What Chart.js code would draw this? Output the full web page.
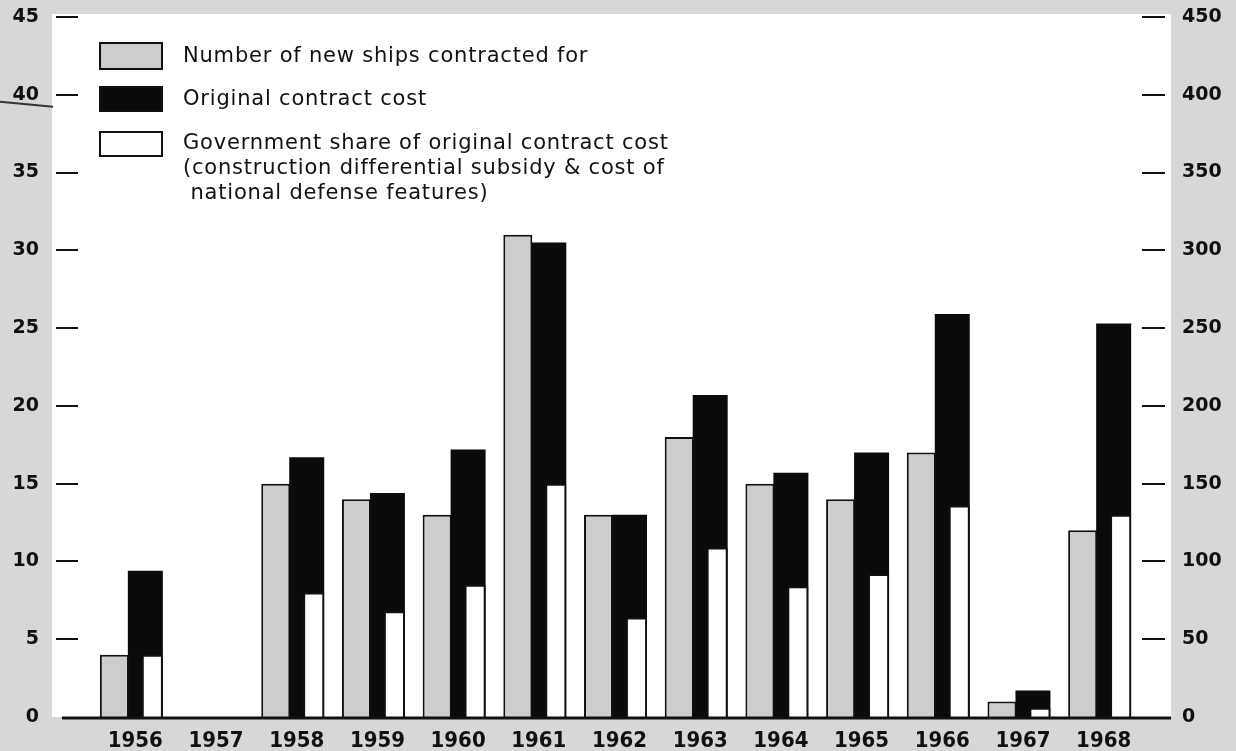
<!DOCTYPE html>
<html>
<head>
<meta charset="utf-8">
<script src="https://cdn.jsdelivr.net/npm/chart.js@4.4.1/dist/chart.umd.min.js"></script>
<style>
  html, body { margin: 0; padding: 0; background: #d7d7d7; }
  #wrap { position: relative; width: 1236px; height: 751px; overflow: hidden; }
  #wrap canvas { position: absolute; left: 0; top: 0; }
  .lg-row { position: absolute; left: 99px; }
  .lg-box { position: absolute; left: 0; width: 64px; box-sizing: border-box; border: 2px solid #111; }
  .lg-txt { position: absolute; left: 84px; font-family: 'DejaVu Sans', sans-serif; font-size: 21px;
            letter-spacing: 0.8px; line-height: 25px; color: #111; white-space: pre; }
</style>
</head>
<body>
<div id="wrap">
  <canvas id="cv" width="1236" height="751"></canvas>
  <div id="legend"></div>
</div>
<script>
// valores (escala esquerda: navios, direita: custo em milhoes)
const YEARS = ['1956', '1957', '1958', '1959', '1960', '1961', '1962', '1963', '1964', '1965', '1966', '1967', '1968'];
const SHIPS = [4, null, 15, 14, 13, 31, 13, 18, 15, 14, 17, 1, 12];
const COST = [94, null, 167, 144, 172, 305, 130, 207, 157, 170, 259, 17, 253];
const GOV_SHARE = [40, null, 80, 68, 85, 150, 64, 109, 84, 92, 136, 6, 130];
const SHIPS_AXIS = { min: 0, max: 45, step: 5 };
const COST_AXIS = { min: 0, max: 450, step: 50 };

const LBL_SHIPS = ['Number of new ships contracted for'];
const LBL_COST = ['Original contract cost'];
const LBL_GOV = ['Government share of original contract cost',
  '(construction differential subsidy & cost of',
  ' national defense features)'];

const INK = '#111';
const GRAY = '#cdcdcd';

// fundo cinza + painel branco, marcas dos eixos e linha de base
const moldura = {
  id: 'moldura',
  beforeDraw(chart) {
    const { ctx, chartArea: a, scales } = chart;
    const y0 = scales.yShips.getPixelForValue(0);
    ctx.save();
    ctx.fillStyle = '#d7d7d7';
    ctx.fillRect(0, 0, chart.width, chart.height);
    ctx.fillStyle = '#fff';
    ctx.fillRect(a.left - 37, 14, (a.right + 33) - (a.left - 37), y0 - 14);
    // risco de caneta sob o "40"
    ctx.strokeStyle = '#333';
    ctx.lineWidth = 2;
    ctx.beginPath();
    ctx.moveTo(0, scales.yShips.getPixelForValue(40) + 7);
    ctx.lineTo(a.left - 36, scales.yShips.getPixelForValue(40) + 12);
    ctx.stroke();
    ctx.restore();
  },
  afterDatasetsDraw(chart) {
    const { ctx, chartArea: a, scales: { yShips, yCost } } = chart;
    const line = (x1, y1, x2, y2) => { ctx.beginPath(); ctx.moveTo(x1, y1); ctx.lineTo(x2, y2); ctx.stroke(); };
    ctx.save();
    ctx.strokeStyle = INK;
    ctx.lineWidth = 2;
    yShips.ticks.forEach(t => {
      if (t.value === 0) return;
      const y = Math.round(yShips.getPixelForValue(t.value));
      line(a.left - 33, y, a.left - 11, y);
    });
    yCost.ticks.forEach(t => {
      if (t.value === 0) return;
      const y = Math.round(yCost.getPixelForValue(t.value));
      line(a.right + 4, y, a.right + 27, y);
    });
    ctx.lineWidth = 3;
    const y0 = yShips.getPixelForValue(0) + 1;
    line(a.left - 27, y0, a.right + 33, y0);
    ctx.restore();
  }
};

const fonteEixo = { family: "'DejaVu Sans', sans-serif", weight: 'bold', size: 19 };

const chart = new Chart(document.getElementById('cv'), {
  type: 'bar',
  data: {
    labels: YEARS,
    datasets: [
      { label: LBL_SHIPS, data: SHIPS, yAxisID: 'yShips', stack: 'ships',
        backgroundColor: GRAY, borderColor: INK, borderWidth: 2,
        categoryPercentage: 0.743, barPercentage: 0.967 },
      { label: LBL_GOV, data: GOV_SHARE, yAxisID: 'yCost', stack: 'cost',
        backgroundColor: '#fff', borderColor: INK, borderWidth: 2,
        categoryPercentage: 1.14, barPercentage: 0.46 },
      { label: LBL_COST, data: COST, yAxisID: 'yCost', stack: 'cost',
        backgroundColor: '#0b0b0b', borderColor: '#0b0b0b', borderWidth: 0,
        categoryPercentage: 0.793, barPercentage: 1.094 }
    ]
  },
  options: {
    responsive: false,
    animation: false,
    layout: { padding: { top: 17, left: 0, right: 0, bottom: 0 } },
    plugins: { legend: { display: false }, tooltip: { enabled: false } },
    scales: {
      x: {
        offset: true,
        grid: { display: false, drawTicks: false },
        border: { display: false },
        ticks: {
          color: INK, autoSkip: false, maxRotation: 0, padding: 11, labelOffset: 6,
          font: { family: "'DejaVu Sans Condensed', 'DejaVu Sans', sans-serif", weight: 'bold', size: 22 }
        },
        afterFit: s => { s.height = 34; }
      },
      yShips: {
        position: 'left', min: SHIPS_AXIS.min, max: SHIPS_AXIS.max, stacked: false,
        grid: { display: false, drawTicks: true, tickLength: 50 },
        border: { display: false },
        ticks: { stepSize: SHIPS_AXIS.step, padding: 0, color: INK, font: fonteEixo },
        afterFit: s => { s.width = 89; }
      },
      yCost: {
        position: 'right', min: COST_AXIS.min, max: COST_AXIS.max, stacked: false,
        grid: { display: false, drawTicks: true, tickLength: 44 },
        border: { display: false },
        ticks: { stepSize: COST_AXIS.step, padding: 0, color: INK, font: fonteEixo },
        afterFit: s => { s.width = 98; }
      }
    }
  },
  plugins: [moldura]
});

// legenda em HTML (texto em varias linhas)
function montarLegenda() {
  const el = document.getElementById('legend');
  const itens = [
    { ds: chart.data.datasets[0], top: 42, h: 28, txtTop: 1 },
    { ds: chart.data.datasets[2], top: 86, h: 26, txtTop: 0 },
    { ds: chart.data.datasets[1], top: 131, h: 26, txtTop: -1 }
  ];
  el.innerHTML = itens.map(it => `
    <div class="lg-row" style="top:${it.top}px">
      <div class="lg-box" style="height:${it.h}px;background:${it.ds.backgroundColor};border-color:${INK}"></div>
      <div class="lg-txt" style="top:${it.txtTop}px">${it.ds.label.join('\n')}</div>
    </div>`).join('');
}
montarLegenda();
</script>
</body>
</html>
